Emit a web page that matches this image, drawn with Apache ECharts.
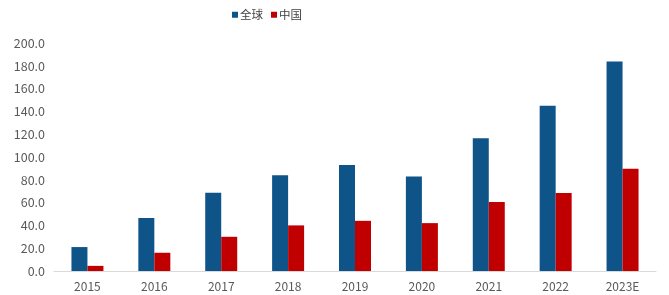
<!DOCTYPE html>
<html><head><meta charset="utf-8">
<script src="https://cdn.jsdelivr.net/npm/echarts@6/dist/echarts.min.js"></script>
<style>html,body{margin:0;padding:0;background:#fff}#c{width:669px;height:295px}</style>
</head><body><div id="c"></div>
<script>
const categories = ['2015','2016','2017','2018','2019','2020','2021','2022','2023E'];
const globalValues = [21, 46.5, 68.7, 84, 93, 83, 116.5, 145, 183.7];
const chinaValues = [4.5, 16, 30, 40, 44, 42, 60.5, 68.5, 89.7];
const seriesNames = ['全球', '中国'];
const yTicks = { min: 0, max: 200, interval: 20 };

const chart = echarts.init(document.getElementById('c'), null, {renderer: 'canvas'});
const font = '"Noto Sans CJK SC", "Noto Sans", sans-serif';
chart.setOption({
  animation: false,
  textStyle: { fontFamily: font },
  legend: {
    top: 4, left: 227, itemWidth: 6, itemHeight: 6, itemGap: 8,
    icon: 'rect',
    textStyle: { color: '#404040', fontSize: 11.5, fontFamily: font, padding: [0,0,0,-3] },
    data: seriesNames
  },
  grid: { left: 54, right: 13, top: 43, bottom: 24, containLabel: false },
  xAxis: {
    type: 'category', data: categories,
    axisLine: { lineStyle: { color: '#D9D9D9' } },
    axisTick: { show: false },
    axisLabel: { color: '#595959', fontSize: 12, margin: 9, fontFamily: font }
  },
  yAxis: {
    type: 'value', min: yTicks.min, max: yTicks.max, interval: yTicks.interval,
    splitLine: { show: false },
    axisLine: { show: false }, axisTick: { show: false },
    axisLabel: { color: '#595959', fontSize: 12.5, margin: 9, fontFamily: font,
      formatter: v => v.toFixed(1) }
  },
  series: [
    { name: seriesNames[0], type: 'bar', data: globalValues, barWidth: 16, barGap: '0%',
      itemStyle: { color: '#0F5489' } },
    { name: seriesNames[1], type: 'bar', data: chinaValues, barWidth: 16,
      itemStyle: { color: '#C00000' } }
  ]
});
</script></body></html>
